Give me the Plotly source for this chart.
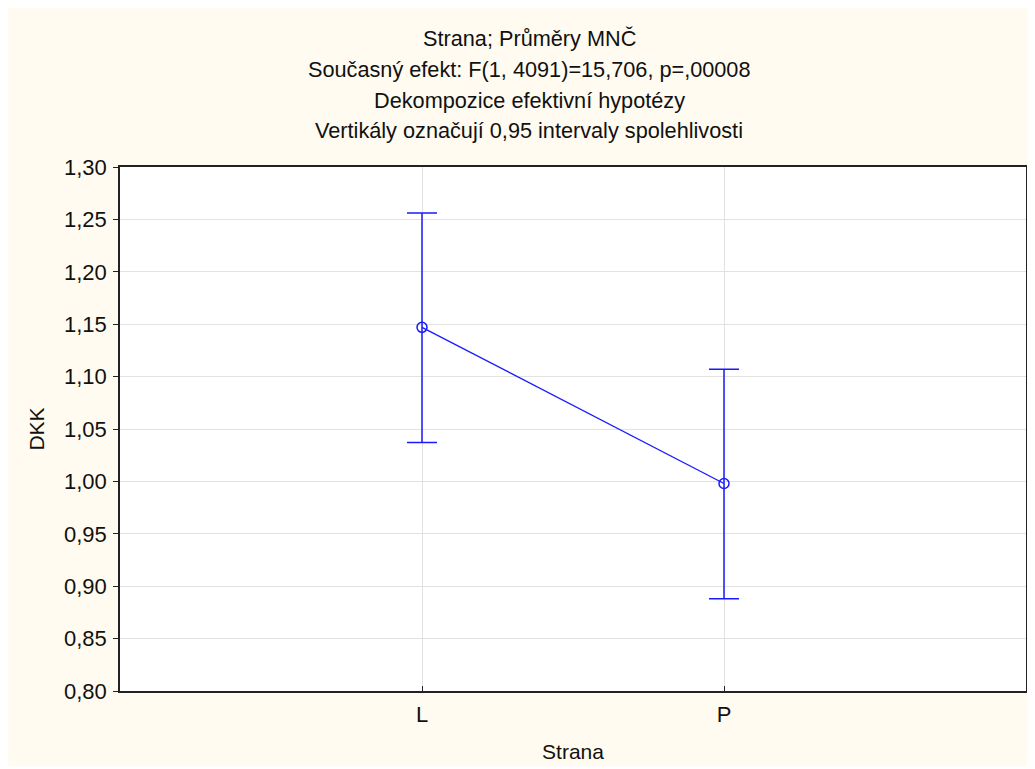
import plotly.graph_objects as go

categories = ["L", "P"]
means = [1.147, 0.998]
ci_upper = [1.256, 1.107]
ci_lower = [1.037, 0.888]
y_ticks = [0.80, 0.85, 0.90, 0.95, 1.00, 1.05, 1.10, 1.15, 1.20, 1.25, 1.30]
y_tick_labels = [f"{v:.2f}".replace(".", ",") for v in y_ticks]
title_lines = [
    "Strana; Průměry MNČ",
    "Současný efekt: F(1, 4091)=15,706, p=,00008",
    "Dekompozice efektivní hypotézy",
    "Vertikály označují 0,95 intervaly spolehlivosti",
]

# page body has an 8px margin, so figure coordinates = page coordinates - 8
OFF = 8
W, H = 1035 - OFF, 769 - OFF
L_M, R_M, T_M, B_M = 112, 7, 159, 78
PW = W - L_M - R_M
PH = H - T_M - B_M
FONT = "Arial, Liberation Sans, sans-serif"
BLUE = "#1a1aff"
CREAM = "#FFFBF0"
TXT = "#111111"

x_idx = list(range(len(categories)))
err_plus = [u - m for u, m in zip(ci_upper, means)]
err_minus = [m - l for l, m in zip(ci_lower, means)]

fig = go.Figure()
fig.add_trace(go.Scatter(
    x=x_idx, y=means, mode="lines+markers",
    line=dict(color=BLUE, width=1.3),
    marker=dict(symbol="circle-open", size=10, color=BLUE, line=dict(width=1.5, color=BLUE)),
    error_y=dict(type="data", array=err_plus, arrayminus=err_minus, symmetric=False,
                 color=BLUE, thickness=1.5, width=15),
    showlegend=False, hoverinfo="skip",
))

def px_x(px):  # page px -> paper x
    return (px - OFF - L_M) / PW

def px_y(py):  # page px -> paper y
    return (H - B_M - (py - OFF)) / PH

shapes = [
    dict(type="rect", xref="paper", yref="paper", x0=px_x(OFF), x1=px_x(1040),
         y0=px_y(766), y1=px_y(OFF), fillcolor=CREAM, line=dict(width=0), layer="below"),
    dict(type="rect", xref="paper", yref="paper", x0=0, x1=1, y0=0, y1=1,
         fillcolor="white", line=dict(width=0), layer="below"),
]

annotations = []
for i, t in enumerate(title_lines):
    annotations.append(dict(
        text=t, xref="paper", yref="paper", x=px_x(530), y=px_y(38.5 + 30.8 * i),
        xanchor="center", yanchor="middle", showarrow=False,
        font=dict(family=FONT, size=21.7, color=TXT),
    ))

fig.update_layout(
    width=W, height=H,
    margin=dict(l=L_M, r=R_M, t=T_M, b=B_M, pad=0),
    paper_bgcolor="white", plot_bgcolor="white",
    shapes=shapes, annotations=annotations,
    font=dict(family=FONT, size=21, color=TXT),
    xaxis=dict(
        range=[-1, 2], tickmode="array", tickvals=x_idx, ticktext=categories,
        showgrid=True, gridcolor="#e2e2e2", gridwidth=1,
        showline=True, linecolor="#222", linewidth=1.5, mirror=True,
        ticks="inside", ticklen=5, tickcolor="#222",
        tickfont=dict(family=FONT, size=22, color=TXT),
        ticklabelstandoff=3,
        title=dict(text="Strana", font=dict(family=FONT, size=21, color=TXT), standoff=18),
        zeroline=False, fixedrange=True,
    ),
    yaxis=dict(
        range=[0.80, 1.30], tickmode="array", tickvals=y_ticks, ticktext=y_tick_labels,
        showgrid=True, gridcolor="#e2e2e2", gridwidth=1,
        showline=True, linecolor="#222", linewidth=1.5, mirror=True,
        ticks="outside", ticklen=5, tickcolor="#222",
        tickfont=dict(family=FONT, size=22, color=TXT),
        ticklabelstandoff=2,
        title=dict(text="DKK", font=dict(family=FONT, size=21, color=TXT), standoff=14),
        zeroline=False, fixedrange=True,
    ),
)

fig.write_html("out.html")
